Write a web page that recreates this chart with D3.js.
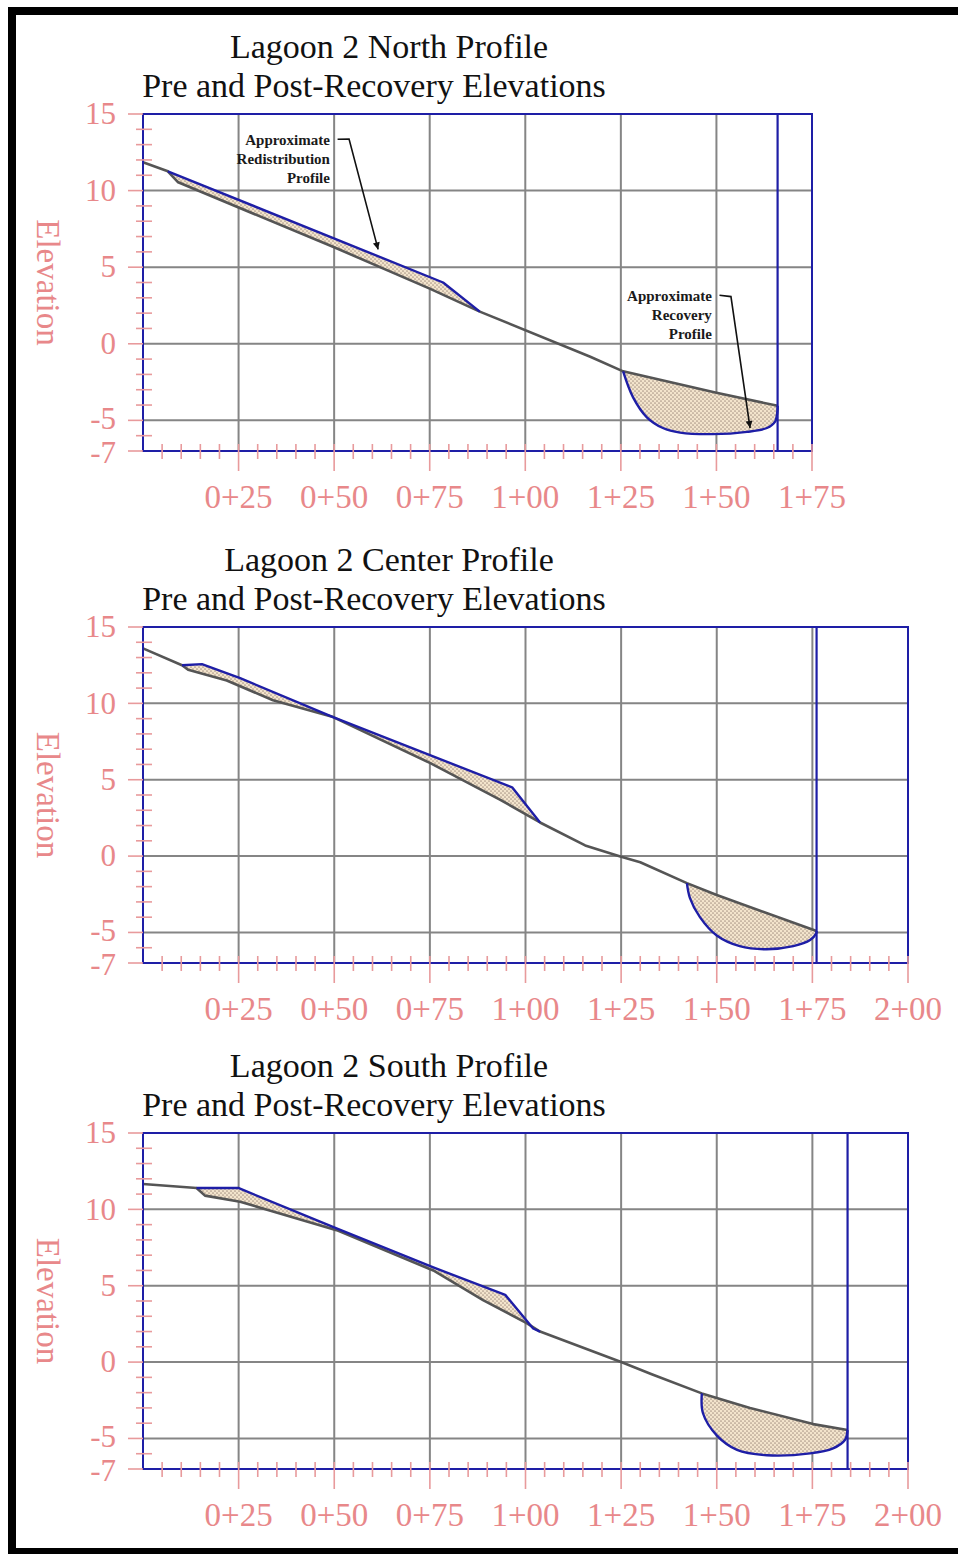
<!DOCTYPE html>
<html>
<head>
<meta charset="utf-8">
<script src="https://cdn.jsdelivr.net/npm/d3@7"></script>
<style>
  body { margin: 0; background: #fff; }
  svg { display: block; }
</style>
</head>
<body>
<svg id="chart" width="958" height="1554"></svg>
<script>
// station (ft) / elevation pairs
const northPre = [[0, 11.85], [6.5, 11.26], [9.2, 10.54], [50, 6.3], [75, 3.6], [88.1, 2.1], [117, -0.85],
    [125.6, -1.8], [150, -3.2], [166, -4.05]];
const northRedist = [[6.5, 11.26], [78.5, 4.0], [88.1, 2.1]];
const northRecovery = [[125.6, -1.8], [128.2, -3.5], [131.8, -4.8], [136, -5.5], [140.5, -5.8], [149, -5.9],
    [158, -5.75], [163.2, -5.5], [165.3, -5.1], [166, -4.3], [166, -4.05]];

const centerPre = [[0, 13.6], [10.2, 12.5], [11.8, 12.2], [21.9, 11.5], [34, 10.2], [49.7, 9.1], [75, 6.1],
    [93.3, 3.7], [103.8, 2.2], [115.6, 0.7], [125, -0.05], [130, -0.4], [142.2, -1.77], [150, -2.55], [176.1, -4.9]];
const centerRedist = [[10.2, 12.5], [15.4, 12.57], [25.4, 11.65], [49.7, 9.1], [96.5, 4.5], [103.8, 2.2]];
const centerRecovery = [[142.2, -1.77], [143, -2.75], [145.6, -4.0], [150, -5.2], [156, -5.9], [163, -6.1],
    [170, -5.9], [174.4, -5.5], [176, -5.05], [176.1, -4.9]];

const southPre = [[0, 11.66], [14, 11.4], [16.2, 10.9], [25.4, 10.5], [50.6, 8.64], [75.9, 6.0], [88.9, 4.06],
    [100.3, 2.55], [103.8, 2.0], [125, 0], [133, -0.8], [146.1, -2.05], [158.7, -3.0],
    [175.2, -4.06], [184.2, -4.45]];
const southRedist = [[14, 11.4], [24.9, 11.4], [50.6, 8.75], [75.9, 6.2], [94.7, 4.4], [102, 2.2], [103.8, 2.0]];
const southRecovery = [[146.1, -2.05], [146.4, -3.35], [150, -4.8], [155.3, -5.75], [163.1, -6.1], [174.4, -5.98],
    [180.4, -5.65], [183.5, -5.1], [184.2, -4.45]];

const titles = ["Lagoon 2 North Profile", "Lagoon 2 Center Profile", "Lagoon 2 South Profile"];
const subtitle = "Pre and Post-Recovery Elevations";
const yLabel = "Elevation";
const yTickLabels = [15, 10, 5, 0, -5, -7];
const stationMax = [175, 200, 200];
const wallStation = [166, 176.1, 184.2];

// annotations (only on the north profile)
const redistNote = ["Approximate", "Redistribution", "Profile"];
const redistLeader = [[48.9, 13.0], [53.9, 13.36], [61.5, 6.16]];
const recoveryNote = ["Approximate", "Recovery", "Profile"];
const recoveryLeader = [[148.8, 2.82], [153.8, 3.08], [158.8, -5.5]];

const panels = [
    { pre: northPre, redist: northRedist, recovery: northRecovery, top: 114, bottom: 451, right: 812,
      notes: [{ text: redistNote, leader: redistLeader }, { text: recoveryNote, leader: recoveryLeader }] },
    { pre: centerPre, redist: centerRedist, recovery: centerRecovery, top: 627, bottom: 963, right: 908, notes: [] },
    { pre: southPre, redist: southRedist, recovery: southRecovery, top: 1133, bottom: 1469, right: 908, notes: [] }
];

const serif = '"Liberation Serif", "Times New Roman", serif';
const pink = "#e8888a";
const tickPink = "#e89a9c";
const gridGray = "#858585";
const frameBlue = "#1e1ea6";
const preGray = "#555555";
const left = 143;

const svg = d3.select("#chart");
svg.append("rect").attr("width", 958).attr("height", 1554).attr("fill", "#fff");

const defs = svg.append("defs");
const pat = defs.append("pattern")
    .attr("id", "dots")
    .attr("patternUnits", "userSpaceOnUse")
    .attr("width", 4).attr("height", 4);
pat.append("rect").attr("width", 4).attr("height", 4).attr("fill", "#f3e4cc");
pat.append("circle").attr("cx", 1).attr("cy", 1).attr("r", 0.85).attr("fill", "#ab9888");
pat.append("circle").attr("cx", 3).attr("cy", 3).attr("r", 0.85).attr("fill", "#ab9888");

defs.append("marker")
    .attr("id", "arrow")
    .attr("viewBox", "0 0 10 10")
    .attr("refX", 10).attr("refY", 5)
    .attr("markerWidth", 12).attr("markerHeight", 7)
    .attr("markerUnits", "userSpaceOnUse")
    .attr("orient", "auto")
    .append("path")
    .attr("d", "M0,0 L10,5 L0,10 Z")
    .attr("fill", "#111");

panels.forEach((p, i) => {
    const x = d3.scaleLinear().domain([0, stationMax[i]]).range([left, p.right]);
    const y = d3.scaleLinear().domain([-7, 15]).range([p.bottom, p.top]);
    const g = svg.append("g");

    // titles
    g.append("text")
        .attr("x", 389).attr("y", p.top - 56)
        .attr("text-anchor", "middle")
        .style("font-family", serif).style("font-size", "34px").attr("fill", "#111")
        .text(titles[i]);
    g.append("text")
        .attr("x", 374).attr("y", p.top - 17)
        .attr("text-anchor", "middle")
        .style("font-family", serif).style("font-size", "34px").attr("fill", "#111")
        .text(subtitle);

    // grid
    const xGrid = d3.range(25, stationMax[i], 25);
    g.selectAll(".vgrid").data(xGrid).join("line")
        .attr("x1", d => x(d)).attr("x2", d => x(d))
        .attr("y1", p.top).attr("y2", p.bottom)
        .attr("stroke", gridGray).attr("stroke-width", 2);
    g.selectAll(".hgrid").data([10, 5, 0, -5]).join("line")
        .attr("x1", left).attr("x2", p.right)
        .attr("y1", d => y(d)).attr("y2", d => y(d))
        .attr("stroke", gridGray).attr("stroke-width", 2);

    const straight = d3.line().x(d => x(d[0])).y(d => y(d[1]));
    const smooth = d3.line().x(d => x(d[0])).y(d => y(d[1])).curve(d3.curveCatmullRom.alpha(0.5));

    // fill between post and pre profiles
    const fillPath = (post, gen) => {
        const x0 = post[0][0], x1 = post[post.length - 1][0];
        const back = p.pre.filter(d => d[0] > x0 && d[0] < x1).reverse();
        let d = gen(post);
        if (back.length) d += "L" + straight(back).slice(1);
        return d + "Z";
    };
    g.append("path").attr("d", fillPath(p.redist, straight)).attr("fill", "url(#dots)");
    g.append("path").attr("d", fillPath(p.recovery, smooth)).attr("fill", "url(#dots)");

    // pre profile
    g.append("path").datum(p.pre)
        .attr("d", straight)
        .attr("fill", "none").attr("stroke", preGray).attr("stroke-width", 2.6)
        .attr("stroke-linejoin", "round");

    // post profiles
    g.append("path").datum(p.redist)
        .attr("d", straight)
        .attr("fill", "none").attr("stroke", frameBlue).attr("stroke-width", 2.4)
        .attr("stroke-linejoin", "round");
    g.append("path").datum(p.recovery)
        .attr("d", smooth)
        .attr("fill", "none").attr("stroke", frameBlue).attr("stroke-width", 2.4);

    // frame and wall line
    g.append("rect")
        .attr("x", left).attr("y", p.top)
        .attr("width", p.right - left).attr("height", p.bottom - p.top)
        .attr("fill", "none").attr("stroke", frameBlue).attr("stroke-width", 2);
    g.append("line")
        .attr("x1", x(wallStation[i])).attr("x2", x(wallStation[i]))
        .attr("y1", p.top).attr("y2", p.bottom)
        .attr("stroke", frameBlue).attr("stroke-width", 2.2);

    // y ticks
    const yMinor = d3.range(-6, 15).filter(v => !yTickLabels.includes(v));
    g.selectAll(".ymin").data(yMinor).join("line")
        .attr("x1", left - 7).attr("x2", left + 9)
        .attr("y1", d => y(d)).attr("y2", d => y(d))
        .attr("stroke", tickPink).attr("stroke-width", 1.6);
    g.selectAll(".ymaj").data(yTickLabels).join("line")
        .attr("x1", left - 15).attr("x2", left)
        .attr("y1", d => y(d)).attr("y2", d => y(d))
        .attr("stroke", tickPink).attr("stroke-width", 1.6);
    // -5 and -7 sit close together, nudge them apart a little
    const nudge = v => v === -5 ? -2 : v === -7 ? 2 : 0;
    g.selectAll(".ylab").data(yTickLabels).join("text")
        .attr("x", 116).attr("y", d => y(d) + nudge(d))
        .attr("dy", "0.33em")
        .attr("text-anchor", "end")
        .style("font-family", serif).style("font-size", "31px").attr("fill", pink)
        .text(d => d);

    // x ticks
    const xMinor = d3.range(5, stationMax[i] + 1, 5).filter(v => v % 25 !== 0);
    const xMajor = d3.range(25, stationMax[i] + 1, 25);
    g.selectAll(".xmin").data(xMinor).join("line")
        .attr("x1", d => x(d)).attr("x2", d => x(d))
        .attr("y1", p.bottom - 7).attr("y2", p.bottom + 8)
        .attr("stroke", tickPink).attr("stroke-width", 1.6);
    g.selectAll(".xmaj").data(xMajor).join("line")
        .attr("x1", d => x(d)).attr("x2", d => x(d))
        .attr("y1", p.bottom - 7).attr("y2", p.bottom + 20)
        .attr("stroke", tickPink).attr("stroke-width", 1.6);
    g.selectAll(".xlab").data(xMajor).join("text")
        .attr("x", d => x(d)).attr("y", p.bottom + 57)
        .attr("text-anchor", "middle")
        .style("font-family", serif).style("font-size", "33px").attr("fill", pink)
        .text(d => `${Math.floor(d / 100)}+${String(d % 100).padStart(2, "0")}`);

    // axis title
    g.append("text")
        .attr("transform", `translate(37,${(p.top + p.bottom) / 2}) rotate(90)`)
        .attr("text-anchor", "middle")
        .style("font-family", serif).style("font-size", "33px").attr("fill", pink)
        .text(yLabel);

    // annotations
    p.notes.forEach(n => {
        const [tx, ty] = n.leader[0];
        g.append("text")
            .attr("x", x(tx)).attr("y", y(ty))
            .attr("text-anchor", "end")
            .style("font-family", serif).style("font-size", "15px").style("font-weight", "bold")
            .attr("fill", "#1a1a1a")
            .selectAll("tspan").data(n.text).join("tspan")
            .attr("x", x(tx))
            .attr("dy", (d, k) => k === 0 ? 0 : 19)
            .text(d => d);
        const lead = n.leader.map((d, k) => k === 0 ? [d[0] + 2, d[1] + 0.35] : d);
        g.append("path")
            .attr("d", straight(lead))
            .attr("fill", "none").attr("stroke", "#111").attr("stroke-width", 1.6)
            .attr("marker-end", "url(#arrow)");
    });
});

// outer black frame
svg.append("rect").attr("x", 8).attr("y", 7).attr("width", 950).attr("height", 8).attr("fill", "#000");
svg.append("rect").attr("x", 8).attr("y", 7).attr("width", 8).attr("height", 1547).attr("fill", "#000");
svg.append("rect").attr("x", 8).attr("y", 1548).attr("width", 950).attr("height", 6).attr("fill", "#000");
</script>
</body>
</html>
